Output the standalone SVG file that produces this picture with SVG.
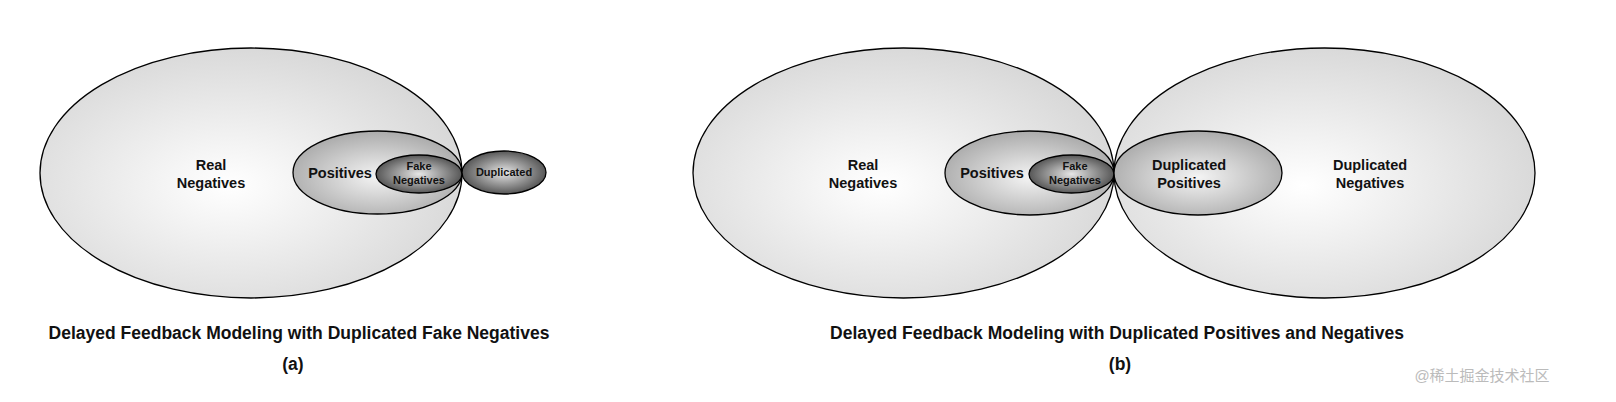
<svg xmlns="http://www.w3.org/2000/svg" width="1616" height="402" viewBox="0 0 1616 402">
<style>
text{font-family:"Liberation Sans",Arial,sans-serif;font-weight:bold;fill:#111;text-anchor:middle}
.l{font-size:14.5px}.s{font-size:11px}.c{font-size:17.5px}
ellipse{stroke:#000;stroke-width:1.3}
</style>
<defs>
<radialGradient id="gBig" cx="0.45" cy="0.55" r="0.6"><stop offset="0" stop-color="#ffffff"/><stop offset="1" stop-color="#d6d6d6"/></radialGradient>
<radialGradient id="gMid" cx="0.5" cy="0.55" r="0.6"><stop offset="0" stop-color="#f4f4f4"/><stop offset="1" stop-color="#a4a4a4"/></radialGradient>
<radialGradient id="gDark" cx="0.5" cy="0.5" r="0.6"><stop offset="0" stop-color="#e6e6e6"/><stop offset="1" stop-color="#3a3a3a"/></radialGradient>
</defs>
<rect width="1616" height="402" fill="#fff"/>
<g id="a-real-negatives"><ellipse cx="251" cy="173" rx="211" ry="125" fill="url(#gBig)"/><text class="l" x="211" y="170">Real</text><text class="l" x="211" y="188">Negatives</text></g>
<g id="a-positives"><ellipse cx="377.5" cy="172.5" rx="84.5" ry="41.5" fill="url(#gMid)"/><text class="l" x="340" y="178">Positives</text></g>
<g id="a-fake-negatives"><ellipse cx="419" cy="174" rx="43" ry="19" fill="url(#gDark)"/><text class="s" x="419" y="170">Fake</text><text class="s" x="419" y="184">Negatives</text></g>
<g id="a-duplicated"><ellipse cx="504" cy="172.5" rx="42" ry="21.5" fill="url(#gDark)"/><text class="s" x="504" y="176">Duplicated</text></g>
<g id="b-real-negatives"><ellipse cx="903.5" cy="173" rx="210.5" ry="125" fill="url(#gBig)"/><text class="l" x="863" y="170">Real</text><text class="l" x="863" y="188">Negatives</text></g>
<g id="b-duplicated-negatives"><ellipse cx="1324.5" cy="173" rx="210.5" ry="125" fill="url(#gBig)"/><text class="l" x="1370" y="170">Duplicated</text><text class="l" x="1370" y="188">Negatives</text></g>
<g id="b-positives"><ellipse cx="1029.5" cy="173" rx="84.5" ry="42" fill="url(#gMid)"/><text class="l" x="992" y="178">Positives</text></g>
<g id="b-fake-negatives"><ellipse cx="1071.5" cy="174" rx="42.5" ry="19" fill="url(#gDark)"/><text class="s" x="1075" y="170">Fake</text><text class="s" x="1075" y="184">Negatives</text></g>
<g id="b-duplicated-positives"><ellipse cx="1198" cy="173" rx="84" ry="42" fill="url(#gMid)"/><text class="l" x="1189" y="170">Duplicated</text><text class="l" x="1189" y="188">Positives</text></g>
<g id="connectors"/>
<text class="c" x="299" y="339">Delayed Feedback Modeling with Duplicated Fake Negatives</text>
<text class="c" x="293" y="370">(a)</text>
<text class="c" x="1117" y="339">Delayed Feedback Modeling with Duplicated Positives and Negatives</text>
<text class="c" x="1120" y="370">(b)</text>
<text x="1482" y="381" style="font-family:'Liberation Sans','Noto Sans CJK SC',sans-serif;font-weight:normal;font-size:15px;fill:#bbb">@稀土掘金技术社区</text>
</svg>
